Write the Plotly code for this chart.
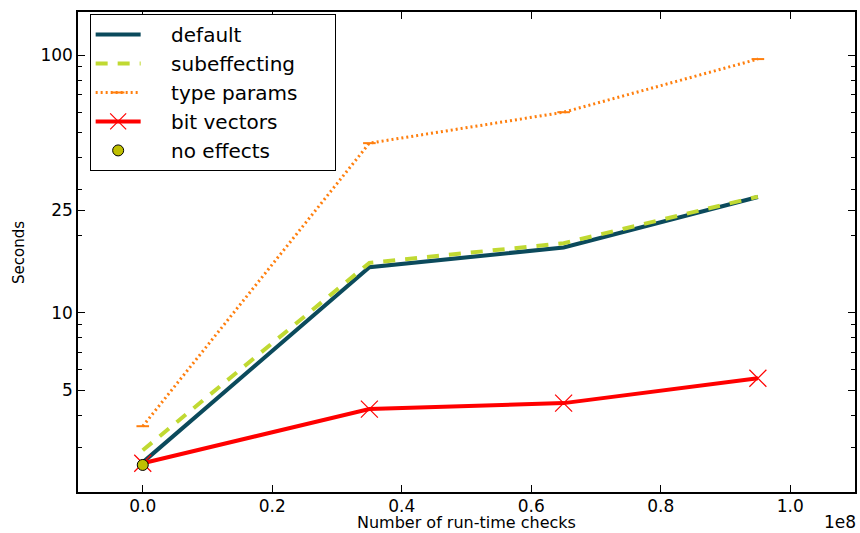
import numpy as np
import plotly.graph_objects as go

x_checks = [0.0, 0.35e8, 0.65e8, 0.95e8]
default_s = [2.62, 15.0, 17.9, 28.1]
subeffecting_s = [2.92, 15.6, 18.6, 28.2]
type_params_s = [3.62, 45.5, 60.0, 96.5]
bit_vectors_s = [2.6, 4.22, 4.45, 5.56]
no_effects_x = [0.0]
no_effects_s = [2.56]

y_major = [5, 10, 25, 100]
y_major_labels = ["5", "10", "25", "100"]
y_minor = [3, 4, 6, 7, 8, 9, 20, 30, 40, 50, 60, 70, 80, 90]
x_ticks = [0.0, 0.2e8, 0.4e8, 0.6e8, 0.8e8, 1.0e8]
x_tick_labels = ["0.0", "0.2", "0.4", "0.6", "0.8", "1.0"]

FONT = "DejaVu Sans"
PAD = "\u00a0" * 4
TAIL = "\u00a0" * 5

fig = go.Figure()
fig.add_trace(go.Scatter(
    x=x_checks, y=default_s, name=PAD + "default" + TAIL, mode="lines",
    line=dict(color="#0b4a5c", width=4)))
fig.add_trace(go.Scatter(
    x=x_checks, y=subeffecting_s, name=PAD + "subeffecting" + TAIL, mode="lines",
    line=dict(color="#c0d932", width=4, dash="12px,10px")))
fig.add_trace(go.Scatter(
    x=x_checks, y=type_params_s, name=PAD + "type params" + TAIL, mode="lines+markers",
    line=dict(color="#ff7f0e", width=3, dash="2px,3px"),
    marker=dict(symbol="line-ew", size=9, line=dict(color="#ff7f0e", width=2))))
fig.add_trace(go.Scatter(
    x=x_checks, y=bit_vectors_s, name=PAD + "bit vectors" + TAIL, mode="lines+markers",
    line=dict(color="#ff0000", width=4),
    marker=dict(symbol="x-thin", size=17, color="#ff0000",
                line=dict(color="#ff0000", width=1.2))))
fig.add_trace(go.Scatter(
    x=no_effects_x, y=no_effects_s, name=PAD + "no effects" + TAIL, mode="markers",
    marker=dict(symbol="circle", size=11, color="#bfbf00",
                line=dict(color="black", width=1))))

fig.update_layout(
    width=860, height=533,
    margin=dict(l=78, r=5, t=12, b=41, autoexpand=False),
    paper_bgcolor="white", plot_bgcolor="white",
    font=dict(family=FONT, size=16, color="black"),
    showlegend=True,
    legend=dict(
        x=0.015, y=0.996, xanchor="left", yanchor="top",
        bordercolor="black", borderwidth=1, bgcolor="white",
        font=dict(family=FONT, size=20), itemwidth=45,
    ),
    xaxis=dict(
        range=[-0.1e8, 1.1e8], tickvals=x_ticks, ticktext=x_tick_labels,
        showgrid=False, zeroline=False, showline=True, linecolor="black",
        linewidth=1.5, mirror="allticks", ticks="inside", ticklen=7,
        tickcolor="black", tickfont=dict(size=17), automargin=False,
        ticklabelstandoff=-2,
    ),
    yaxis=dict(
        type="log", range=[np.log10(2.01), np.log10(147)],
        tickvals=y_major, ticktext=y_major_labels,
        showgrid=False, zeroline=False, showline=True, linecolor="black",
        linewidth=1.5, mirror="allticks", ticks="inside", ticklen=7,
        tickcolor="black", tickfont=dict(size=17), automargin=False,
        minor=dict(tickmode="array", tickvals=y_minor, ticks="inside",
                   ticklen=4, tickcolor="black", showgrid=False),
    ),
)
fig.add_annotation(text="Number of run-time checks", xref="paper", yref="paper",
                   x=0.5, y=-0.063, xanchor="center", yanchor="middle", borderpad=0,
                   showarrow=False, font=dict(family=FONT, size=16))
fig.add_annotation(text="Seconds", xref="paper", yref="paper",
                   x=-0.076, y=0.5, xanchor="center", yanchor="middle", textangle=-90,
                   borderpad=0, showarrow=False, font=dict(family=FONT, size=15))
fig.add_annotation(text="1e8", xref="paper", yref="paper", x=1.003, y=-0.062,
                   xanchor="right", yanchor="middle", borderpad=0, showarrow=False,
                   font=dict(family=FONT, size=17))

fig.write_html("out.html", config={"displayModeBar": False},
               post_script="document.body.style.margin='0';document.body.style.overflow='hidden';")
